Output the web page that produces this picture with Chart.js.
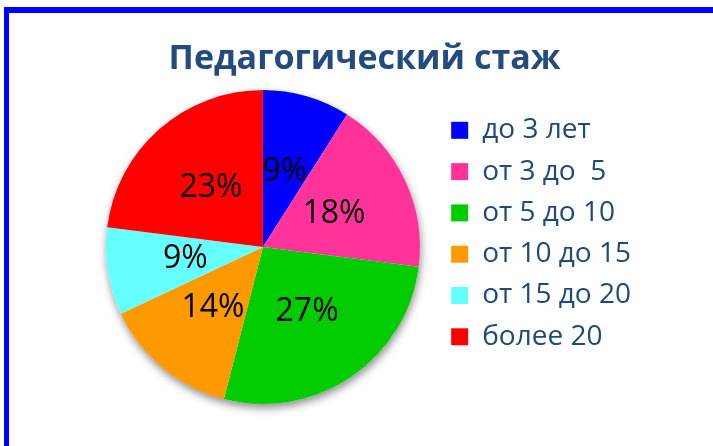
<!DOCTYPE html>
<html>
<head>
<meta charset="utf-8">
<script src="https://cdn.jsdelivr.net/npm/chart.js@4/dist/chart.umd.min.js"></script>
<style>
  html, body { margin: 0; padding: 0; background: #ffffff; }
  body { width: 713px; height: 446px; position: relative; overflow: hidden; }
  #frame { position: absolute; left: 4px; top: 7px; width: 900px; height: 700px; border: 5px solid #0000ff; border-top-width: 6px; box-sizing: border-box; }
  #wrap { position: absolute; left: 0; top: 0; width: 713px; height: 446px; }
</style>
</head>
<body>
<div id="frame"></div>
<div id="wrap"><canvas id="c" width="713" height="446"></canvas></div>
<script>
const chartTitle = 'Педагогический стаж';
const categories = ['до 3 лет', 'от 3 до  5', 'от 5 до 10', 'от 10 до 15', 'от 15 до 20', 'более 20'];
const percentValues = [9, 18, 27, 14, 9, 23];
const sliceColors = ['#0000FF', '#FF3399', '#00CC00', '#FF9900', '#66FFFF', '#FF0000'];

const shadowPlugin = {
  id: 'pieShadow',
  beforeDatasetsDraw(chart) {
    const meta = chart.getDatasetMeta(0);
    if (!meta.data.length) return;
    const a = meta.data[0];
    const ctx = chart.ctx;
    ctx.save();
    ctx.shadowColor = 'rgba(0,0,0,0.45)';
    ctx.shadowBlur = 9;
    ctx.shadowOffsetX = 1;
    ctx.shadowOffsetY = 4;
    ctx.fillStyle = '#ffffff';
    ctx.beginPath();
    ctx.arc(a.x, a.y, a.outerRadius, 0, Math.PI * 2);
    ctx.fill();
    ctx.restore();
  }
};

const labelPlugin = {
  id: 'sliceLabels',
  afterDatasetsDraw(chart) {
    const meta = chart.getDatasetMeta(0);
    const ds = chart.data.datasets[0];
    const ctx = chart.ctx;
    ctx.save();
    ctx.font = '32px "Open Sans"';
    ctx.fillStyle = '#000000';
    ctx.textAlign = 'center';
    ctx.textBaseline = 'middle';
    meta.data.forEach((arc, i) => {
      const mid = (arc.startAngle + arc.endAngle) / 2;
      const r = arc.outerRadius * 0.5;
      const x = arc.x + Math.cos(mid) * r;
      const y = arc.y + Math.sin(mid) * r;
      ctx.fillText(ds.data[i] + '%', x, y);
    });
    ctx.restore();
  }
};

new Chart(document.getElementById('c'), {
  type: 'pie',
  data: {
    labels: categories,
    datasets: [{
      data: percentValues,
      backgroundColor: sliceColors,
      borderWidth: 0
    }]
  },
  options: {
    responsive: false,
    animation: false,
    layout: { padding: { left: 88, right: 72, top: 0, bottom: 42 } },
    plugins: {
      tooltip: { enabled: false },
      title: {
        display: true,
        text: chartTitle,
        color: '#244B80',
        font: { family: '"Open Sans"', size: 34, weight: 'bold', lineHeight: 1.2 },
        padding: { top: 39, bottom: 10.2 }
      },
      legend: {
        display: true,
        position: 'right',
        fullSize: false,
        align: 'start',
        title: { display: true, text: ' ', font: { size: 13, lineHeight: 1 }, padding: 0 },
        labels: {
          boxWidth: 17,
          boxHeight: 17,
          padding: 13.3,
          color: '#1F497D',
          font: { family: '"Open Sans"', size: 28 }
        }
      }
    }
  },
  plugins: [shadowPlugin, labelPlugin]
});
</script>
</body>
</html>
